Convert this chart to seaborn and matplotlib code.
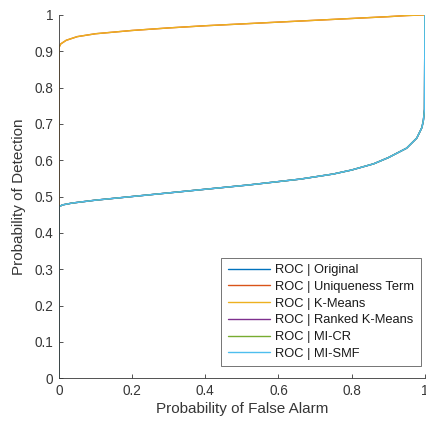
import pandas as pd
import matplotlib
matplotlib.use("Agg")
import matplotlib.pyplot as plt
import seaborn as sns

# ROC curves (false alarm, detection)
fa_high = [0.0, 0.0, 0.0, 0.005, 0.02, 0.05, 0.1, 0.2, 0.3, 0.4, 0.5, 0.6, 0.7, 0.8, 0.9, 0.95, 1.0]
pd_high = [0.0, 0.905, 0.91, 0.92, 0.93, 0.94, 0.948, 0.957, 0.964, 0.970, 0.975, 0.980, 0.985, 0.990, 0.995, 0.998, 1.0]

fa_low = [0.0, 0.0, 0.0, 0.01, 0.036, 0.1, 0.2, 0.3, 0.4, 0.52, 0.66, 0.75, 0.8, 0.86, 0.9, 0.95, 0.978, 0.992, 0.996, 0.999, 1.0]
pd_low = [0.0, 0.47, 0.472, 0.477, 0.482, 0.49, 0.50, 0.51, 0.52, 0.532, 0.548, 0.562, 0.573, 0.59, 0.607, 0.633, 0.661, 0.69, 0.71, 0.74, 1.0]

labels = ['ROC | Original', 'ROC | Uniqueness Term', 'ROC | K-Means',
          'ROC | Ranked K-Means', 'ROC | MI-CR', 'ROC | MI-SMF']
colors = ['#0072BD', '#D95319', '#EDB120', '#7E2F8E', '#77AC30', '#4DBEEE']
curve_of = ['low', 'high', 'high', 'low', 'low', 'low']

rows = []
for lab, which in zip(labels, curve_of):
    xs, ys = (fa_high, pd_high) if which == 'high' else (fa_low, pd_low)
    for i, (x, y) in enumerate(zip(xs, ys)):
        rows.append({'method': lab, 'order': i, 'fa': x, 'pd': y})
df = pd.DataFrame(rows)

sns.set_style('white')
plt.rcParams['font.family'] = ['Liberation Sans', 'DejaVu Sans']
txt = '#363636'

fig = plt.figure(figsize=(4.27, 4.24), dpi=100)
ax = fig.add_axes([0.138, 0.108, 0.857, 0.857])

sns.lineplot(data=df, x='fa', y='pd', hue='method', hue_order=labels,
             palette=colors, sort=False, estimator=None, units='method',
             linewidth=1.0, ax=ax)

ax.set_xlim(0, 1)
ax.set_ylim(0, 1)
ax.set_xticks([0, 0.2, 0.4, 0.6, 0.8, 1])
ax.set_xticklabels(['0', '0.2', '0.4', '0.6', '0.8', '1'])
ax.set_yticks([i / 10 for i in range(11)])
ax.set_yticklabels(['0'] + ['%.1f' % (i / 10) for i in range(1, 10)] + ['1'])
ax.tick_params(direction='in', length=3, width=0.6, labelsize=9.8,
               colors=txt, left=True, bottom=True, pad=4)
for s in ['top', 'right']:
    ax.spines[s].set_visible(False)
for s in ['left', 'bottom']:
    ax.spines[s].set_color(txt)
    ax.spines[s].set_linewidth(0.6)
ax.set_xlabel('Probability of False Alarm', fontsize=11, color=txt, labelpad=3)
ax.set_ylabel('Probability of Detection', fontsize=11, color=txt, labelpad=6)

leg = ax.legend(loc='lower right', bbox_to_anchor=(0.989, 0.033),
                fontsize=9.3, frameon=True, fancybox=False,
                edgecolor=txt, handlelength=3.3, borderpad=0.5,
                labelspacing=0.36, handletextpad=0.4, borderaxespad=0)
leg.get_frame().set_linewidth(0.6)
for t in leg.get_texts():
    t.set_color('#1a1a1a')

fig.savefig('out.png', dpi=100)
